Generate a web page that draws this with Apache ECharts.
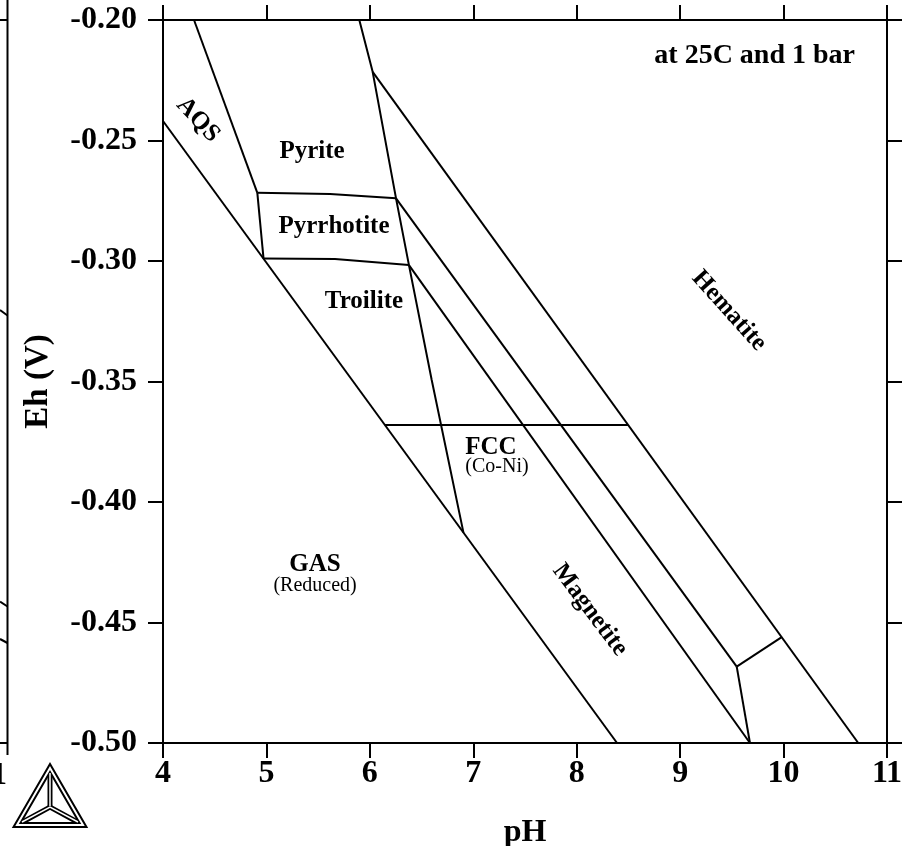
<!DOCTYPE html>
<html>
<head>
<meta charset="utf-8">
<script src="https://cdn.jsdelivr.net/npm/echarts@6/dist/echarts.min.js"></script>
<style>
  html, body { margin: 0; padding: 0; background: #fff; }
  #chart { width: 905px; height: 846px; }
</style>
</head>
<body>
<div id="chart"></div>
<script>
// Axis tick labels
const xTickLabels = ['4', '5', '6', '7', '8', '9', '10', '11'];
const yTickLabels = ['-0.50', '-0.45', '-0.40', '-0.35', '-0.30', '-0.25', '-0.20'];

// Phase boundaries as [pH, Eh (V)] points
const gasBoundary        = [[4.0, -0.2419], [8.39, -0.5]];
const aqsPyrite          = [[4.30, -0.20], [4.912, -0.2717]];
const pyrrhotiteLeft     = [[4.912, -0.2717], [4.972, -0.2990]];
const pyritePyrrhotite   = [[4.912, -0.2717], [5.615, -0.2722], [6.253, -0.2740]];
const pyrrhotiteTroilite = [[4.972, -0.2990], [5.663, -0.2992], [6.378, -0.3017]];
const sulfideEdge        = [[5.898, -0.20], [6.027, -0.2215], [6.253, -0.2740], [6.378, -0.3017], [6.598, -0.3494], [6.905, -0.4127]];
const hematiteBoundary   = [[6.027, -0.2215], [10.722, -0.5]];
const upperMagnetite     = [[6.253, -0.2740], [9.547, -0.4683]];
const lowerMagnetite     = [[6.378, -0.3017], [9.675, -0.5]];
const fccLine            = [[6.146, -0.3681], [8.497, -0.3681]];
const cornerLink         = [[9.547, -0.4683], [9.982, -0.4561]];
const cornerDrop         = [[9.547, -0.4683], [9.675, -0.5]];

// Field names
const regionNames = ['Pyrite', 'Pyrrhotite', 'Troilite', 'FCC', 'GAS', 'AQS', 'Hematite', 'Magnetite'];
const regionPH    = [5.441, 5.653, 5.943, 7.171, 5.470, 4.338, 9.472, 8.128];
const regionEh    = [-0.2544, -0.2859, -0.3170, -0.3772, -0.4261, -0.2415, -0.3207, -0.4448];
const regionAngle = [0, 0, 0, 0, 0, -47, -48, -53];

const subNames = ['(Co-Ni)', '(Reduced)'];
const subPH    = [7.229, 5.470];
const subEh    = [-0.3855, -0.4349];

const conditionsText = 'at 25C and 1 bar';

const SERIF = '"Liberation Serif", "Times New Roman", serif';

const boundaries = [
  gasBoundary, aqsPyrite, pyrrhotiteLeft, pyritePyrrhotite, pyrrhotiteTroilite,
  sulfideEdge, hematiteBoundary, upperMagnetite, lowerMagnetite, fccLine,
  cornerLink, cornerDrop
];

const lineSeries = boundaries.map(pts => ({
  type: 'line',
  data: pts,
  symbol: 'none',
  silent: true,
  lineStyle: { color: '#000', width: 2 },
  z: 3
}));

const regionSeries = {
  type: 'scatter',
  symbolSize: 0,
  silent: true,
  itemStyle: { opacity: 1 },
  data: regionNames.map((n, i) => ({
    value: [regionPH[i], regionEh[i]],
    label: { rotate: regionAngle[i] }
  })),
  label: {
    show: true,
    position: 'inside',
    formatter: p => regionNames[p.dataIndex],
    fontFamily: SERIF,
    fontWeight: 'bold',
    fontSize: 25,
    color: '#000',
    opacity: 1,
    textBorderWidth: 0
  },
  z: 4
};

const subSeries = {
  type: 'scatter',
  symbolSize: 0,
  silent: true,
  itemStyle: { opacity: 1 },
  data: subNames.map((n, i) => [subPH[i], subEh[i]]),
  label: {
    show: true,
    position: 'inside',
    formatter: p => subNames[p.dataIndex],
    fontFamily: SERIF,
    fontSize: 20,
    color: '#000',
    opacity: 1,
    textBorderWidth: 0
  },
  z: 4
};

const axisLine = { show: true, onZero: false, lineStyle: { color: '#000', width: 2 } };
const axisTick = { show: true, inside: false, length: 15, lineStyle: { color: '#000', width: 2 } };

const xLabelFmt = v => xTickLabels[Math.round(v - 4)];
const yLabelFmt = v => yTickLabels[Math.round((v + 0.5) / 0.05)];

const chart = echarts.init(document.getElementById('chart'), null, { renderer: 'canvas' });

chart.setOption({
  animation: false,
  backgroundColor: '#fff',
  title: {
    text: conditionsText,
    right: 45,
    top: 37,
    textStyle: { fontFamily: SERIF, fontWeight: 'bold', fontSize: 28, color: '#000' }
  },
  grid: {
    left: 163, top: 20, width: 724, height: 723,
    containLabel: false, outerBoundsMode: 'none'
  },
  xAxis: [
    {
      type: 'value', position: 'bottom', min: 4, max: 11, interval: 1,
      axisLine, axisTick, splitLine: { show: false },
      axisLabel: {
        formatter: xLabelFmt, margin: 15, color: '#000',
        fontFamily: SERIF, fontWeight: 'bold', fontSize: 32
      },
      name: 'pH', nameLocation: 'middle', nameGap: 74,
      nameTextStyle: { fontFamily: SERIF, fontWeight: 'bold', fontSize: 32, color: '#000' }
    },
    {
      type: 'value', position: 'top', min: 4, max: 11, interval: 1,
      axisLine, axisTick, splitLine: { show: false },
      axisLabel: { show: false }
    }
  ],
  yAxis: [
    {
      type: 'value', position: 'left', min: -0.5, max: -0.2, interval: 0.05,
      axisLine, axisTick, splitLine: { show: false },
      axisLabel: {
        formatter: yLabelFmt, margin: 26, color: '#000',
        fontFamily: SERIF, fontWeight: 'bold', fontSize: 32
      },
      name: 'Eh (V)', nameLocation: 'middle', nameGap: 108, nameRotate: 90,
      nameTextStyle: { fontFamily: SERIF, fontWeight: 'bold', fontSize: 33, color: '#000' }
    },
    {
      type: 'value', position: 'right', min: -0.5, max: -0.2, interval: 0.05,
      axisLine, axisTick, splitLine: { show: false },
      axisLabel: { show: false }
    }
  ],
  series: [...lineSeries, regionSeries, subSeries],
  graphic: [
    // edge of the neighbouring panel
    { type: 'line', shape: { x1: 7.5, y1: 0, x2: 7.5, y2: 755 }, style: { stroke: '#000', lineWidth: 2 } },
    { type: 'line', shape: { x1: 0, y1: 20, x2: 7.5, y2: 20 }, style: { stroke: '#000', lineWidth: 2 } },
    { type: 'line', shape: { x1: 0, y1: 743, x2: 7.5, y2: 743 }, style: { stroke: '#000', lineWidth: 2 } },
    { type: 'line', shape: { x1: 0, y1: 310, x2: 7.5, y2: 315.5 }, style: { stroke: '#000', lineWidth: 2 } },
    { type: 'line', shape: { x1: 0, y1: 601.5, x2: 7.5, y2: 606.5 }, style: { stroke: '#000', lineWidth: 2 } },
    { type: 'line', shape: { x1: 0, y1: 639, x2: 7.5, y2: 643 }, style: { stroke: '#000', lineWidth: 2 } },
    {
      type: 'text', left: -9, top: 760,
      style: { text: '1', font: 'bold 32px ' + SERIF, fill: '#000' }
    },
    // Thermo-Calc mark: double-lined triangle with a double-lined tripod inside
    {
      type: 'group',
      children: [
        { type: 'polygon', shape: { points: [[50, 768], [17, 825], [83, 825]] }, style: { fill: 'none', stroke: '#000', lineWidth: 6, lineJoin: 'miter' } },
        { type: 'polyline', shape: { points: [[50, 770], [50, 807]] }, style: { stroke: '#000', lineWidth: 5 } },
        { type: 'polyline', shape: { points: [[19, 824], [50, 807], [81, 824]] }, style: { stroke: '#000', lineWidth: 5, fill: 'none' } },
        { type: 'polygon', shape: { points: [[50, 768], [17, 825], [83, 825]] }, style: { fill: 'none', stroke: '#fff', lineWidth: 2, lineJoin: 'miter' } },
        { type: 'polyline', shape: { points: [[50, 773], [50, 806]] }, style: { stroke: '#fff', lineWidth: 1.5 } },
        { type: 'polyline', shape: { points: [[22, 822], [50, 807], [78, 822]] }, style: { stroke: '#fff', lineWidth: 1.5, fill: 'none' } }
      ]
    }
  ]
});
</script>
</body>
</html>
